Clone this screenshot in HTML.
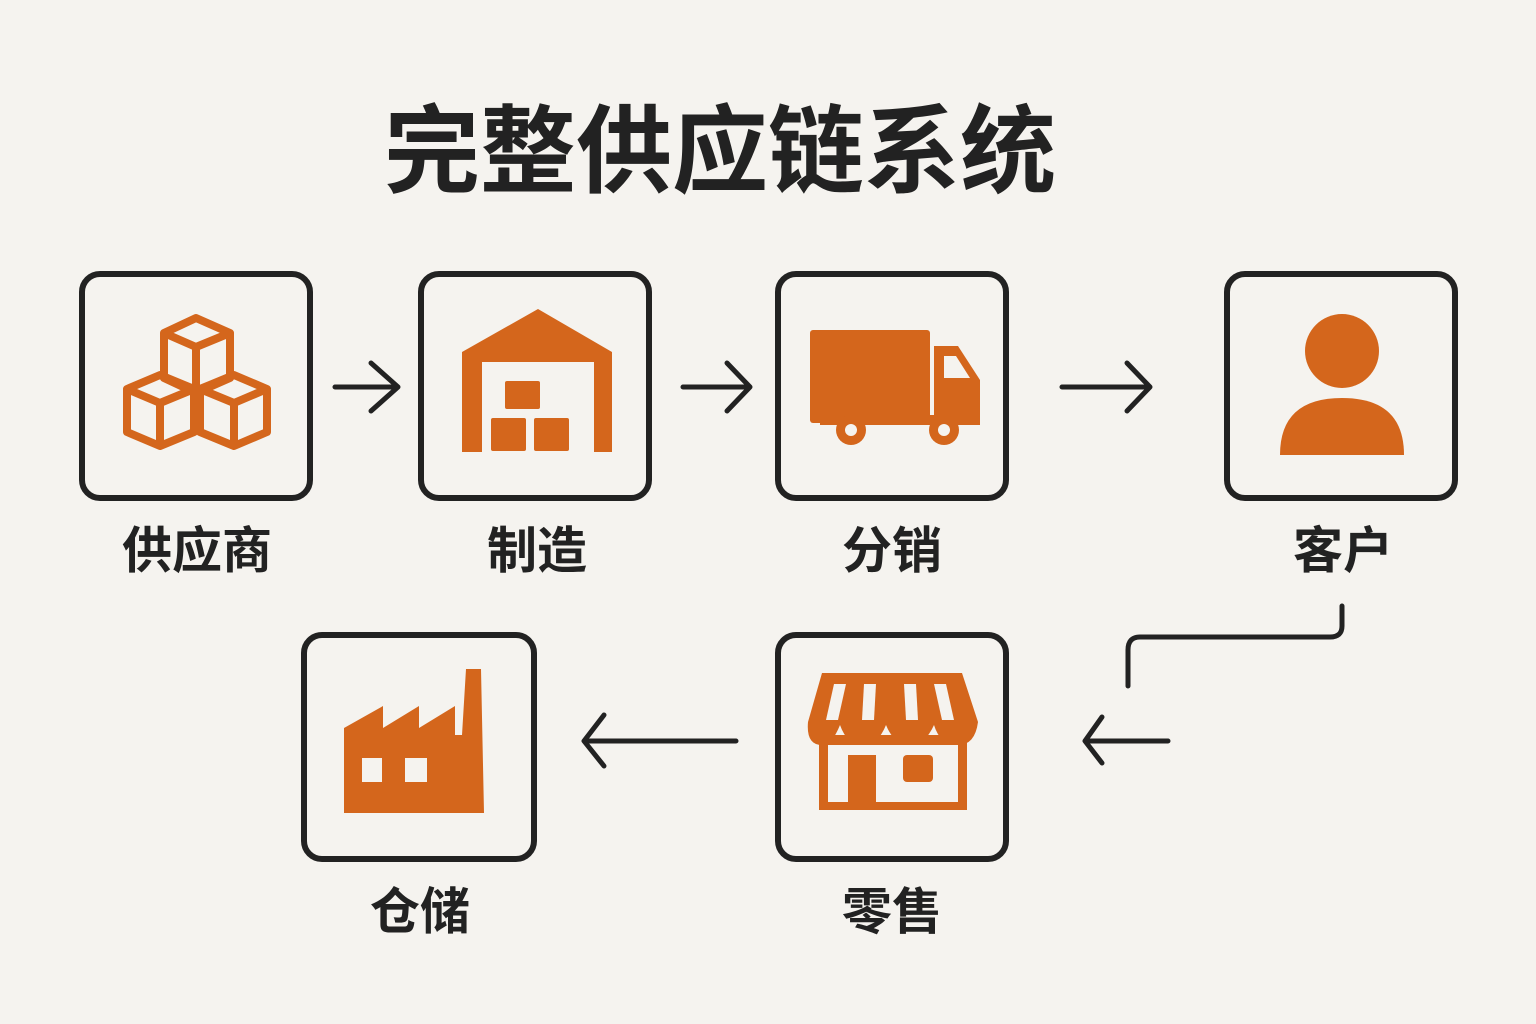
<!DOCTYPE html>
<html><head><meta charset="utf-8"><style>
html,body{margin:0;padding:0;background:#f5f3ef;}
svg{display:block}
text{font-family:"Liberation Sans","Noto Sans CJK SC",sans-serif;font-weight:bold;fill:#222;text-anchor:middle}
</style></head><body>
<svg width="1536" height="1024" viewBox="0 0 1536 1024" xmlns="http://www.w3.org/2000/svg">
<rect width="1536" height="1024" fill="#f5f3ef"/>
<text x="720" y="185" font-size="96">完整供应链系统</text>
<g fill="none" stroke="#222" stroke-width="6">
<rect x="82" y="274" width="228" height="224" rx="18"/>
<rect x="421" y="274" width="228" height="224" rx="18"/>
<rect x="778" y="274" width="228" height="224" rx="18"/>
<rect x="1227" y="274" width="228" height="224" rx="18"/>
<rect x="304" y="635" width="230" height="224" rx="18"/>
<rect x="778" y="635" width="228" height="224" rx="18"/>
</g>
<g fill="none" stroke="#222" stroke-width="5" stroke-linecap="round" stroke-linejoin="round">
<path d="M335 387H398M371 363L398 387L371 411"/>
<path d="M683 387H750M727 363L750 387L727 411"/>
<path d="M1062 387H1150M1127 363L1150 387L1127 411"/>
<path d="M736 741H584M604 715L584 741L604 766"/>
<path d="M1168 741H1085M1102 717L1085 741L1102 763"/>
<path d="M1342 606V626Q1342 637 1330 637H1140Q1128 637 1128 650V686"/>
</g>
<g fill="#d4661c" stroke="none">
<g fill="none" stroke="#d4661c" stroke-width="8" stroke-linejoin="round">
<path d="M164 333L196 318L230 333V378L196 393L164 378Z M164 333L196 347L230 333 M196 347V393"/>
<path d="M127 389L160 375L194 389V432L160 446L127 432Z M127 389L160 403L194 389 M160 403V446"/>
<path d="M200 389L234 375L267 389V432L234 446L200 432Z M200 389L234 403L267 389 M234 403V446"/>
</g>
<path d="M462 352L538 309L612 352V452H594V362H482V452H462Z"/>
<rect x="505" y="381" width="35" height="28" rx="2"/>
<rect x="491" y="418" width="35" height="33" rx="2"/>
<rect x="534" y="418" width="35" height="33" rx="2"/>
<rect x="810" y="330" width="120" height="93" rx="3"/>
<path d="M934 346H958L980 380V420H934Z"/>
<rect x="820" y="415" width="160" height="10"/>
<circle cx="851" cy="430" r="15"/><circle cx="851" cy="430" r="6" fill="#f5f3ef"/>
<circle cx="944" cy="430" r="15"/><circle cx="944" cy="430" r="6" fill="#f5f3ef"/>
<path d="M944 356H956L970 378H944Z" fill="#f5f3ef"/>
<circle cx="1342" cy="351" r="37"/>
<path d="M1280 455Q1280 398 1342 398Q1404 398 1404 455Z"/>
<path d="M344 728L383 706V728L419 706V728L455 706V735H462L466 669H481L484 813H344Z"/>
<rect x="362" y="758" width="20" height="24" fill="#f5f3ef"/>
<rect x="405" y="758" width="22" height="24" fill="#f5f3ef"/>
<path d="M822 673H962L978 722Q975 745 958 745Q940 745 934 725Q925 745 910 745Q894 745 886 725Q878 745 863 745Q847 745 840 725Q832 745 822 745Q806 745 808 722Z"/>
<rect x="819" y="735" width="148" height="75"/>
<rect x="828" y="745" width="130" height="57" fill="#f5f3ef"/>
<rect x="848" y="755" width="28" height="55"/>
<rect x="903" y="755" width="30" height="27" rx="4"/>
<g fill="#f5f3ef">
<path d="M834 684H846L838 720H826Z"/><path d="M864 684H876L874 720H862Z"/>
<path d="M904 684H916L918 720H906Z"/><path d="M934 684H946L954 720H942Z"/>
</g>
</g>
<text x="197" y="568" font-size="50">供应商</text>
<text x="537" y="568" font-size="50">制造</text>
<text x="892" y="568" font-size="50">分销</text>
<text x="1343" y="568" font-size="50">客户</text>
<text x="420" y="929" font-size="50">仓储</text>
<text x="892" y="929" font-size="50">零售</text>
</svg>
</body></html>
